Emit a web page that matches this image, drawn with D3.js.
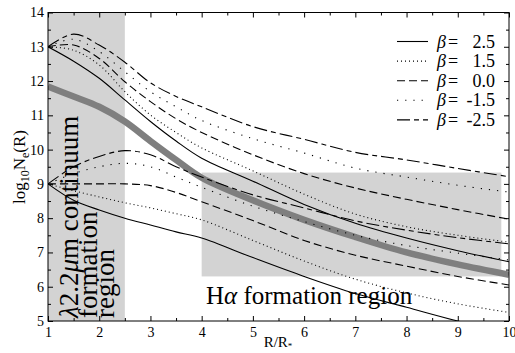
<!DOCTYPE html>
<html>
<head>
<meta charset="utf-8">
<script src="https://cdn.jsdelivr.net/npm/d3@7"></script>
<style>
  body { margin: 0; background: #fff; }
  svg text { font-family: "Liberation Serif", "Times New Roman", Times, "DejaVu Serif", serif !important; fill: #000; }
</style>
</head>
<body>
<svg id="chart" width="515" height="353"></svg>
<script>
// radius grid, R/R*
var radius = [1, 1.5, 2, 2.5, 3, 3.5, 4, 5, 6, 7, 8, 9, 10];

// log10 Ne, models starting at 13 in the centre
var upper_b25  = [13.0, 12.58, 12.08, 11.45, 10.82, 10.25, 9.75, 9.08, 8.40, 7.85, 7.42, 7.05, 6.73];
var upper_b15  = [13.0, 12.90, 12.47, 11.69, 11.01, 10.50, 10.05, 9.38, 8.70, 8.12, 7.75, 7.50, 7.30];
var upper_b00  = [13.0, 13.05, 12.66, 11.98, 11.40, 10.90, 10.50, 9.85, 9.30, 8.88, 8.55, 8.25, 7.97];
var upper_bm15 = [13.0, 13.22, 12.86, 12.27, 11.69, 11.25, 10.85, 10.32, 9.90, 9.46, 9.20, 8.96, 8.76];
var upper_bm25 = [13.0, 13.37, 13.05, 12.55, 11.95, 11.55, 11.25, 10.67, 10.30, 9.92, 9.70, 9.45, 9.21];

// models starting at 9
var lower_b25  = [9.0, 8.52, 8.24, 8.00, 7.80, 7.60, 7.42, 6.85, 6.30, 5.80, 5.40, 5.00, 4.65];
var lower_b15  = [9.0, 8.80, 8.62, 8.45, 8.30, 8.13, 7.95, 7.35, 6.75, 6.22, 5.82, 5.50, 5.25];
var lower_b00  = [9.0, 9.00, 9.00, 9.00, 8.95, 8.75, 8.48, 7.93, 7.35, 6.92, 6.60, 6.30, 6.05];
var lower_bm15 = [9.0, 9.30, 9.50, 9.60, 9.50, 9.20, 8.90, 8.35, 7.90, 7.50, 7.20, 6.98, 6.78];
var lower_bm25 = [9.0, 9.50, 9.80, 9.97, 9.85, 9.50, 9.20, 8.68, 8.30, 7.92, 7.65, 7.43, 7.25];

// thick grey reference curve
var reference = [11.84, 11.55, 11.25, 10.82, 10.25, 9.70, 9.18, 8.52, 7.95, 7.45, 7.00, 6.65, 6.35];

var betaLabels = ["2.5", "1.5", "0.0", "-1.5", "-2.5"];
var upperSet = [upper_b25, upper_b15, upper_b00, upper_bm15, upper_bm25];
var lowerSet = [lower_b25, lower_b15, lower_b00, lower_bm15, lower_bm25];

var xTicks = [1, 2, 3, 4, 5, 6, 7, 8, 9, 10];
var yTicks = [5, 6, 7, 8, 9, 10, 11, 12, 13, 14];

// shaded regions (data coords)
var contRegionX = [1, 2.5];
var haRegionX = [4, 9.85];
var haRegionY = [6.3, 9.33];

var dashes = ["none", "1,3", "8,4", "1.2,7", "13,4,5,4"];
var serif = "'Liberation Serif', 'Times New Roman', Times, 'DejaVu Serif', serif";

var svg = d3.select("#chart").attr("font-family", serif);
var x = d3.scaleLinear().domain([1, 10]).range([48, 509]);
var y = d3.scaleLinear().domain([5, 14]).range([321, 12.5]);

svg.append("rect")
  .attr("x", x(contRegionX[0])).attr("y", y(14))
  .attr("width", x(contRegionX[1]) - x(contRegionX[0]))
  .attr("height", y(5) - y(14))
  .attr("fill", "#d3d3d3");
svg.append("rect")
  .attr("x", x(haRegionX[0])).attr("y", y(haRegionY[1]))
  .attr("width", x(haRegionX[1]) - x(haRegionX[0]))
  .attr("height", y(haRegionY[0]) - y(haRegionY[1]))
  .attr("fill", "#d3d3d3");

// region captions
var capLines = [
  {bx: 78, parts: [["λ", true], ["2.2", false], ["μ", true], ["m continuum", false]]},
  {bx: 97, parts: [["formation", false]]},
  {bx: 114, parts: [["region", false]]}
];
capLines.forEach(function(l) {
  var t = svg.append("text")
    .attr("transform", "translate(" + l.bx + ",318) rotate(-90)")
    .style("font-size", "27px");
  l.parts.forEach(function(p) {
    t.append("tspan").style("font-style", p[1] ? "italic" : "normal").text(p[0]);
  });
});
var ha = svg.append("text").attr("x", 206).attr("y", 304).style("font-size", "25px");
ha.append("tspan").text("H");
ha.append("tspan").style("font-style", "italic").text("α");
ha.append("tspan").text(" formation region");

svg.append("clipPath").attr("id", "plotclip")
  .append("rect").attr("x", 48).attr("y", 12.5).attr("width", 461).attr("height", 308.5);

var line = d3.line()
  .x(function(d, i) { return x(radius[i]); })
  .y(function(d) { return y(d); })
  .curve(d3.curveCatmullRom.alpha(0.5));

var plot = svg.append("g").attr("clip-path", "url(#plotclip)");

plot.append("path")
  .attr("d", line(reference))
  .attr("fill", "none")
  .attr("stroke", "#7f7f7f")
  .attr("stroke-width", 6.5);

[upperSet, lowerSet].forEach(function(set) {
  set.forEach(function(vals, i) {
    plot.append("path")
      .attr("d", line(vals))
      .attr("fill", "none")
      .attr("stroke", "#000")
      .attr("stroke-width", 1.1)
      .attr("stroke-dasharray", dashes[i]);
  });
});

// axes, ticks pointing inward
function minorX() { return d3.range(1.5, 10, 1); }
function minorY() { return d3.range(5.5, 14, 1); }

svg.append("g").attr("transform", "translate(0,321)")
  .call(d3.axisBottom(x).tickValues(xTicks).tickSize(-5).tickPadding(6).tickFormat(d3.format("d")));
svg.append("g").attr("transform", "translate(0,321)")
  .call(d3.axisBottom(x).tickValues(minorX()).tickSize(-3).tickFormat(""));
svg.append("g").attr("transform", "translate(0,12.5)")
  .call(d3.axisTop(x).tickValues(xTicks).tickSize(-5).tickFormat(""));
svg.append("g").attr("transform", "translate(0,12.5)")
  .call(d3.axisTop(x).tickValues(minorX()).tickSize(-3).tickFormat(""));
svg.append("g").attr("transform", "translate(48,0)")
  .call(d3.axisLeft(y).tickValues(yTicks).tickSize(-5).tickPadding(4).tickFormat(d3.format("d")));
svg.append("g").attr("transform", "translate(48,0)")
  .call(d3.axisLeft(y).tickValues(minorY()).tickSize(-3).tickFormat(""));
svg.append("g").attr("transform", "translate(509,0)")
  .call(d3.axisRight(y).tickValues(yTicks).tickSize(-5).tickFormat(""));
svg.append("g").attr("transform", "translate(509,0)")
  .call(d3.axisRight(y).tickValues(minorY()).tickSize(-3).tickFormat(""));

svg.selectAll(".domain").remove();
svg.selectAll("g").filter(function() { return this.hasAttribute("font-family"); })
  .attr("font-family", serif);
svg.selectAll(".tick line").attr("stroke", "#000");
svg.selectAll(".tick text")
  .style("font-size", "14px")
  .attr("fill", "#000");

svg.append("rect")
  .attr("x", 48).attr("y", 12.5).attr("width", 461).attr("height", 308.5)
  .attr("fill", "none").attr("stroke", "#000").attr("stroke-width", 1);

// axis titles
var xl = svg.append("text").attr("x", 278).attr("y", 347)
  .attr("text-anchor", "middle").style("font-size", "15px");
xl.append("tspan").text("R/R");
xl.append("tspan").attr("dy", 2).style("font-size", "9px").text("*");

var yl = svg.append("text")
  .attr("transform", "translate(25,167) rotate(-90)")
  .attr("text-anchor", "middle").style("font-size", "17px");
yl.append("tspan").text("log");
yl.append("tspan").attr("dy", 4).style("font-size", "12px").text("10");
yl.append("tspan").attr("dy", -4).text("N");
yl.append("tspan").attr("dy", 4).style("font-size", "12px").text("e");
yl.append("tspan").attr("dy", -4).text("(R)");

// legend
var legend = svg.append("g");
betaLabels.forEach(function(b, i) {
  var cy = 41.5 + i * 19.6;
  legend.append("line")
    .attr("x1", 397).attr("x2", 428).attr("y1", cy).attr("y2", cy)
    .attr("stroke", "#000").attr("stroke-width", 1.1)
    .attr("stroke-dasharray", dashes[i]);
  legend.append("text").attr("x", 437).attr("y", cy + 6)
    .style("font-size", "18px").style("font-style", "italic").text("β");
  legend.append("text").attr("x", 448).attr("y", cy + 6)
    .style("font-size", "18px").text("=");
  legend.append("text").attr("x", 495).attr("y", cy + 6)
    .attr("text-anchor", "end").style("font-size", "18px").text(b);
});
</script>
</body>
</html>
